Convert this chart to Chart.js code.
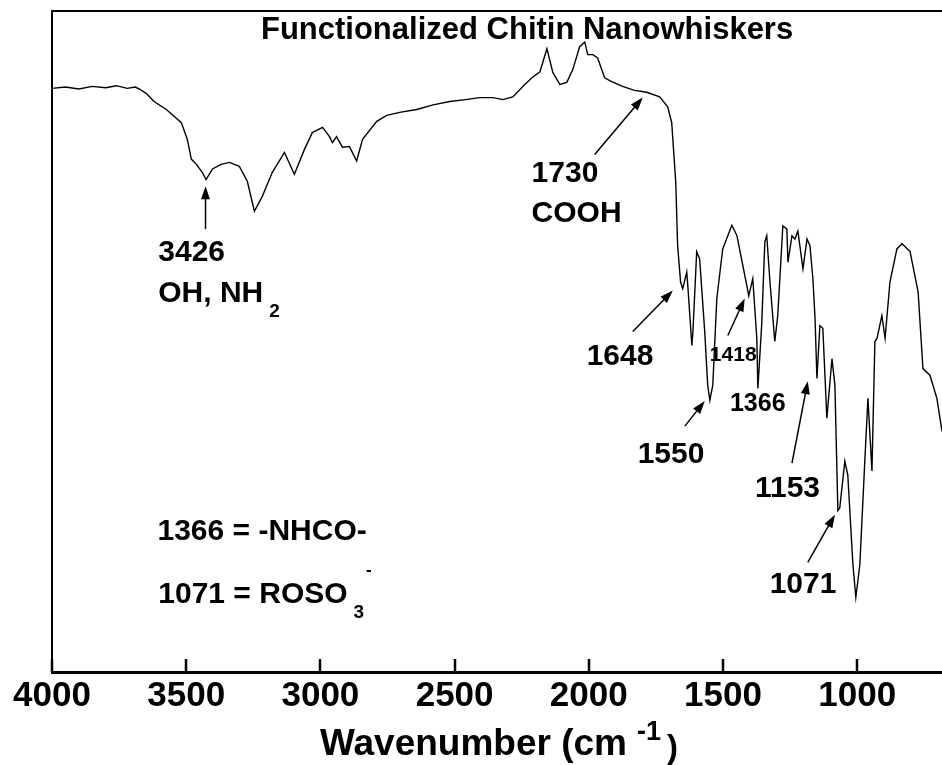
<!DOCTYPE html>
<html lang="en">
<head>
<meta charset="UTF-8">
<title>Functionalized Chitin Nanowhiskers</title>
<script src="https://cdn.jsdelivr.net/npm/chart.js"></script>
<style>
  html, body { margin: 0; padding: 0; background: #fff; overflow: hidden; }
  canvas { display: block; }
</style>
</head>
<body>
<canvas id="chart" width="942" height="765"></canvas>
<script>
// FTIR spectrum (transmittance in arbitrary %)
const wavenumbers = [4000, 3950, 3900, 3850, 3800, 3760, 3720, 3690, 3674, 3648, 3620, 3574, 3540, 3518, 3496, 3481, 3462, 3440, 3426, 3402,
  3370, 3339, 3302, 3272, 3246, 3216, 3179, 3134, 3097, 3059, 3030, 2992, 2966, 2955, 2940, 2918, 2892, 2865, 2843, 2790,
  2753, 2700, 2641, 2580, 2518, 2460, 2406, 2357, 2320, 2283, 2245, 2212, 2182, 2156, 2134, 2108, 2082, 2060, 2034, 2015,
  2004, 1985, 1967, 1941, 1915, 1874, 1830, 1784, 1736, 1706, 1691, 1676, 1669, 1662, 1658, 1650, 1635, 1631, 1616, 1612,
  1598, 1587, 1568, 1557, 1549, 1538, 1523, 1501, 1467, 1448, 1411, 1404, 1389, 1374, 1370, 1356, 1344, 1337, 1325, 1307,
  1296, 1277, 1262, 1258, 1243, 1232, 1221, 1202, 1187, 1176, 1165, 1157, 1150, 1139, 1128, 1113, 1094, 1083, 1072, 1065,
  1046, 1035, 1016, 1005, 990, 971, 960, 945, 934, 926, 908, 896, 878, 852, 833, 803, 773, 755, 729, 703, 684];
const transmittance = [88.3, 88.5, 88.2, 88.6, 88.4, 88.7, 88.3, 88.5, 88.2, 87.5, 86.3, 85.1, 83.9, 83.1, 80.6, 77.6, 76.8, 75.6, 74.5, 76.1,
  76.8, 77.1, 76.5, 74.2, 69.7, 72.0, 75.6, 78.6, 75.3, 79.1, 81.6, 82.4, 81.0, 80.1, 81.0, 79.4, 79.5, 77.3, 80.6, 83.3,
  84.2, 84.7, 85.1, 85.8, 86.3, 86.6, 86.9, 86.9, 86.6, 87.0, 88.6, 89.9, 90.8, 94.3, 90.7, 88.9, 89.2, 91.1, 94.6, 95.3,
  93.4, 93.4, 92.9, 89.9, 89.3, 88.6, 88.0, 87.7, 87.0, 85.5, 83.1, 74.1, 64.5, 61.0, 59.0, 58.0, 60.5, 58.4, 49.4, 51.5,
  63.6, 62.5, 51.5, 43.4, 41.1, 43.4, 56.5, 64.0, 67.6, 66.0, 58.4, 56.9, 59.5, 50.5, 42.9, 52.4, 65.1, 66.0, 59.0, 50.0,
  53.9, 67.5, 67.0, 62.0, 66.0, 65.5, 66.7, 61.0, 65.5, 64.5, 59.5, 53.5, 44.4, 52.4, 52.0, 38.4, 47.4, 43.4, 24.4, 24.8,
  31.9, 29.8, 16.3, 11.3, 16.3, 32.4, 41.4, 30.4, 50.0, 50.5, 53.9, 50.5, 59.0, 64.0, 64.8, 63.6, 57.5, 45.9, 44.9, 41.4, 36.4];
const xTicks = [4000, 3500, 3000, 2500, 2000, 1500, 1000];

// peak labels: text parts, anchor [wavenumber, %T], optional arrow [from, tip]
const peakLabels = [
  { parts: [{ t: '3426' }], at: [3604, 62.2], size: 30, arrow: [[3428, 67.0], [3428, 73.5]] },
  { parts: [{ t: 'OH, NH' }, { t: '2', sub: true }], at: [3604, 56.0], size: 30 },
  { parts: [{ t: '1730' }], at: [2213, 74.2], size: 30, arrow: [[1978, 78.3], [1799, 86.9]] },
  { parts: [{ t: 'COOH' }], at: [2213, 68.1], size: 30 },
  { parts: [{ t: '1648' }], at: [2008, 46.4], size: 30, arrow: [[1836, 51.5], [1687, 57.7]] },
  { parts: [{ t: '1418' }], at: [1549, 47.0], size: 21, arrow: [[1482, 50.9], [1419, 56.5]] },
  { parts: [{ t: '1366' }], at: [1474, 39.5], size: 25 },
  { parts: [{ t: '1550' }], at: [1818, 31.6], size: 30, arrow: [[1642, 37.2], [1568, 41.0]] },
  { parts: [{ t: '1153' }], at: [1381, 26.4], size: 30, arrow: [[1243, 31.6], [1184, 44.0]] },
  { parts: [{ t: '1071' }], at: [1326, 12.0], size: 30, arrow: [[1184, 16.6], [1083, 23.8]] },
  { parts: [{ t: '1366 = -NHCO-' }], at: [3607, 19.9], size: 30 },
  { parts: [{ t: '1071 = ROSO' }, { t: '3', sub: true }, { t: '-', sup: true }], at: [3604, 10.4], size: 30 }
];

const FONT = "'Liberation Sans', Arial, sans-serif";

function drawParts(ctx, x, y, parts, size) {
  ctx.textAlign = 'left';
  ctx.textBaseline = 'alphabetic';
  parts.forEach(p => {
    let s = size, dy = 0, dx = 0;
    if (p.sub) { s = Math.round(size * 0.62); dy = size * 0.5; dx = 6; }
    if (p.sup) { s = Math.round(size * 0.55); dy = -size * 0.95; dx = 2; }
    ctx.font = 'bold ' + s + 'px ' + FONT;
    ctx.fillText(p.t, x + dx, y + dy);
    x += dx + ctx.measureText(p.t).width;
  });
}

function drawArrow(ctx, x1, y1, x2, y2) {
  const a = Math.atan2(y2 - y1, x2 - x1);
  const len = 13, half = 4.5;
  ctx.lineWidth = 1.5;
  ctx.beginPath();
  ctx.moveTo(x1, y1);
  ctx.lineTo(x2 - Math.cos(a) * len * 0.8, y2 - Math.sin(a) * len * 0.8);
  ctx.stroke();
  ctx.beginPath();
  ctx.moveTo(x2, y2);
  ctx.lineTo(x2 - Math.cos(a) * len - Math.sin(a) * half, y2 - Math.sin(a) * len + Math.cos(a) * half);
  ctx.lineTo(x2 - Math.cos(a) * len + Math.sin(a) * half, y2 - Math.sin(a) * len - Math.cos(a) * half);
  ctx.closePath();
  ctx.fill();
}

const decorations = {
  id: 'decorations',
  afterDraw(chart) {
    const ctx = chart.ctx, area = chart.chartArea;
    const xs = chart.scales.x, ys = chart.scales.y;
    ctx.save();
    ctx.fillStyle = '#000';
    ctx.strokeStyle = '#000';

    // top frame line
    ctx.lineWidth = 2;
    ctx.beginPath();
    ctx.moveTo(area.left, area.top);
    ctx.lineTo(area.right, area.top);
    ctx.stroke();

    // inward tick marks
    ctx.lineWidth = 2.5;
    xTicks.forEach(v => {
      const px = Math.round(xs.getPixelForValue(v));
      ctx.beginPath();
      ctx.moveTo(px, area.bottom);
      ctx.lineTo(px, area.bottom - 13);
      ctx.stroke();
    });

    // title inside the frame
    ctx.font = 'bold 31px ' + FONT;
    ctx.textAlign = 'center';
    ctx.textBaseline = 'alphabetic';
    ctx.fillText('Functionalized Chitin Nanowhiskers', xs.getPixelForValue(2230), ys.getPixelForValue(95.8));

    // peak labels and arrows
    peakLabels.forEach(l => {
      drawParts(ctx, xs.getPixelForValue(l.at[0]), ys.getPixelForValue(l.at[1]), l.parts, l.size);
      if (l.arrow) {
        const [f, t] = l.arrow;
        drawArrow(ctx, xs.getPixelForValue(f[0]), ys.getPixelForValue(f[1]),
          xs.getPixelForValue(t[0]), ys.getPixelForValue(t[1]));
      }
    });

    // axis title with superscript
    const cx = (area.left + area.right) / 2 + 2;
    const base = 755;
    ctx.textAlign = 'left';
    ctx.font = 'bold 37px ' + FONT;
    const main = 'Wavenumber (cm';
    const w1 = ctx.measureText(main).width;
    ctx.font = 'bold 27px ' + FONT;
    const w2 = ctx.measureText('-1').width;
    ctx.font = 'bold 33px ' + FONT;
    const w3 = ctx.measureText(')').width;
    let x0 = cx - (w1 + 10 + w2 + 6 + w3) / 2;
    ctx.font = 'bold 37px ' + FONT;
    ctx.fillText(main, x0, base);
    x0 += w1 + 10;
    ctx.font = 'bold 27px ' + FONT;
    ctx.fillText('-1', x0, base - 15);
    x0 += w2 + 6;
    ctx.font = 'bold 33px ' + FONT;
    ctx.fillText(')', x0, base + 3);
    ctx.restore();
  }
};

new Chart(document.getElementById('chart'), {
  type: 'line',
  data: {
    datasets: [{
      data: wavenumbers.map((w, i) => ({ x: w, y: transmittance[i] })),
      borderColor: '#000',
      borderWidth: 1.4,
      pointRadius: 0,
      tension: 0,
      fill: false
    }]
  },
  options: {
    responsive: false,
    animation: false,
    devicePixelRatio: 1,
    layout: { padding: { top: 11, left: 52, right: 0, bottom: 45 } },
    plugins: { legend: { display: false }, tooltip: { enabled: false }, title: { display: false } },
    scales: {
      x: {
        type: 'linear',
        reverse: true,
        min: 684,
        max: 4000,
        afterBuildTicks: scale => { scale.ticks = xTicks.map(v => ({ value: v })); },
        ticks: {
          color: '#000',
          padding: 3,
          maxRotation: 0,
          autoSkip: false,
          callback: v => String(v),
          font: { family: FONT, size: 35, weight: 'bold' }
        },
        grid: { display: false, drawTicks: false },
        border: { display: true, color: '#000', width: 3 }
      },
      y: {
        min: 0,
        max: 100,
        ticks: { display: false },
        grid: { display: false, drawTicks: false },
        border: { display: true, color: '#000', width: 2 }
      }
    }
  },
  plugins: [decorations]
});
</script>
</body>
</html>
